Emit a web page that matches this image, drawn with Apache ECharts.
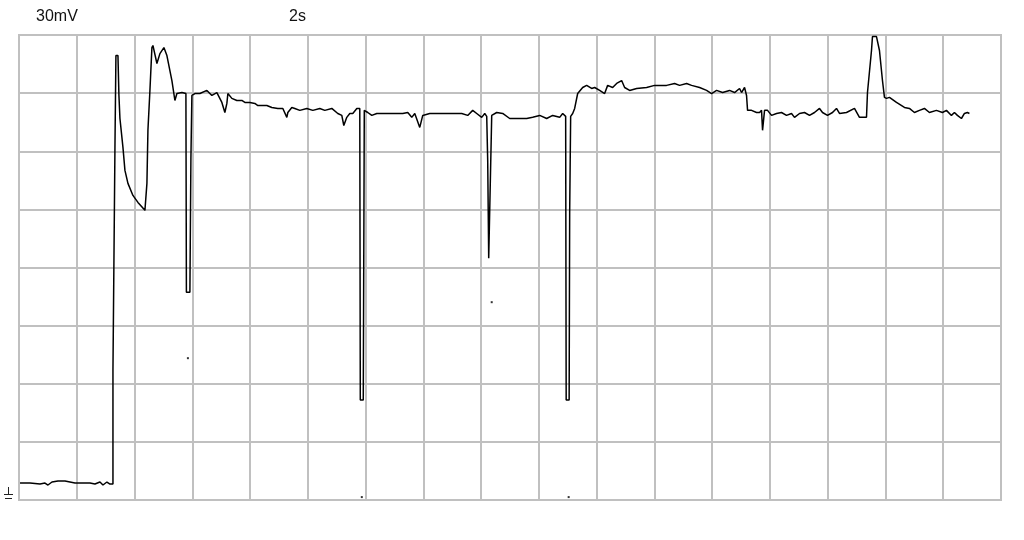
<!DOCTYPE html>
<html>
<head>
<meta charset="utf-8">
<script src="https://cdn.jsdelivr.net/npm/echarts@6/dist/echarts.min.js"></script>
<style>
html,body{margin:0;padding:0;background:#fff;}
#c{width:1024px;height:540px;}
</style>
</head>
<body>
<div id="c"></div>
<script>
// Time (s) and voltage (mV) samples of the trace
var timeS = [0.035,0.381,0.727,0.900,1.003,1.142,1.349,1.592,1.765,1.938,2.111,2.457,2.630,2.803,2.907,3.045,3.149,3.253,3.253,3.322,3.356,3.426,3.460,3.495,3.599,3.668,3.772,3.945,4.118,4.360,4.429,4.464,4.533,4.602,4.637,4.706,4.775,4.879,5.017,5.121,5.294,5.398,5.467,5.640,5.779,5.796,5.917,5.952,5.986,6.090,6.263,6.505,6.678,6.851,7.024,7.128,7.197,7.232,7.370,7.543,7.716,7.820,7.993,8.166,8.270,8.408,8.581,8.754,8.962,9.135,9.273,9.308,9.446,9.550,9.723,9.965,10.173,10.415,10.588,10.830,11.038,11.176,11.246,11.349,11.453,11.557,11.696,11.765,11.799,11.817,11.920,11.955,11.972,12.076,12.215,12.388,12.561,12.837,13.287,13.460,13.599,13.703,13.876,13.979,14.221,14.567,14.913,15.329,15.536,15.709,15.848,16.021,16.125,16.194,16.228,16.263,16.332,16.367,16.540,16.747,16.990,17.232,17.578,17.785,18.028,18.270,18.478,18.720,18.824,18.927,18.945,19.048,19.066,19.100,19.170,19.239,19.343,19.516,19.654,19.827,19.931,20.104,20.277,20.381,20.554,20.692,20.865,20.969,21.142,21.384,21.730,22.007,22.180,22.422,22.699,22.872,23.114,23.287,23.564,23.806,23.979,24.152,24.360,24.602,24.775,24.948,25.017,25.121,25.190,25.225,25.363,25.536,25.640,25.709,25.744,25.813,25.917,26.055,26.228,26.401,26.574,26.747,26.851,27.024,27.197,27.370,27.543,27.716,27.820,27.993,28.166,28.304,28.408,28.651,28.927,29.100,29.343,29.377,29.516,29.550,29.689,29.792,29.896,29.965,30.035,30.138,30.381,30.657,30.830,31.003,31.176,31.349,31.522,31.765,31.972,32.111,32.284,32.388,32.491,32.630,32.734,32.837,32.907];
var voltMV = [8.76,8.76,8.25,8.76,7.73,9.28,9.80,9.80,9.28,8.76,8.76,8.76,8.25,9.28,7.73,9.28,8.25,8.25,67.0,182.0,229.4,229.4,208.8,196.9,182.0,170.1,163.4,157.2,153.6,149.5,163.4,190.8,211.4,233.5,234.6,234.6,225.3,230.4,233.5,229.4,216.5,206.2,209.8,210.3,209.8,107.2,107.2,176.3,208.8,209.8,209.8,211.4,208.8,210.3,205.2,200.0,204.7,209.8,207.3,206.2,206.2,205.2,205.2,204.7,203.6,203.6,203.6,202.6,202.1,202.1,197.5,200.0,202.6,202.1,201.1,202.1,201.1,202.1,201.1,202.1,199.5,198.5,193.3,197.5,199.5,199.5,202.1,203.1,202.1,51.6,51.6,201.1,201.1,200.0,198.5,199.5,199.5,199.5,199.5,200.0,197.5,199.5,192.3,198.5,199.5,199.5,199.5,199.5,198.5,201.1,199.5,197.5,199.5,198.0,175.3,124.8,124.8,198.5,200.0,199.5,196.9,196.9,196.9,197.5,198.5,196.9,198.5,197.5,199.5,198.0,51.6,51.6,148.5,198.0,199.5,202.1,209.8,212.9,214.0,212.4,212.9,211.4,209.8,214.0,212.9,215.0,216.5,212.9,211.4,212.4,212.9,214.0,214.0,214.0,215.0,214.0,215.0,214.0,212.9,211.4,209.8,211.4,210.3,211.4,210.3,212.4,210.3,212.9,208.8,201.1,201.1,200.0,200.0,201.1,190.8,201.1,201.1,198.5,199.5,200.0,198.5,199.5,197.5,199.5,200.0,198.5,200.0,202.1,200.0,198.5,200.0,202.1,199.5,200.0,202.1,197.5,197.5,210.3,232.0,239.2,239.2,232.0,216.5,207.8,207.3,207.8,205.2,202.6,202.1,200.0,201.1,202.1,200.0,201.1,200.0,201.1,198.5,200.0,198.5,196.9,199.5,200.0,199.5];
// Isolated stray sample dots
var dotTimeS = [5.848, 11.869, 16.367, 19.031];
var dotVoltMV = [73.2, 1.5, 102.1, 1.5];
// Scale labels
var voltScaleLabel = '30mV';
var timeScaleLabel = '2s';

var trace = timeS.map(function (t, i) { return [t, voltMV[i]]; });
var dots = dotTimeS.map(function (t, i) { return [t, dotVoltMV[i]]; });

var gridColor = '#c0c0c0';
var chart = echarts.init(document.getElementById('c'), null, {renderer: 'canvas'});
chart.setOption({
  animation: false,
  backgroundColor: '#ffffff',
  grid: {left: 19, top: 35, width: 982, height: 465, show: true, borderColor: gridColor, borderWidth: 2, backgroundColor: 'transparent'},
  xAxis: {
    type: 'value', min: 0, max: 34, interval: 2,
    axisLine: {show: true, lineStyle: {color: gridColor, width: 2}},
    axisTick: {show: false}, axisLabel: {show: false},
    splitLine: {show: true, lineStyle: {color: gridColor, width: 2}}
  },
  yAxis: {
    type: 'value', min: 0, max: 240, interval: 30,
    axisLine: {show: true, lineStyle: {color: gridColor, width: 2}},
    axisTick: {show: false}, axisLabel: {show: false},
    splitLine: {show: true, lineStyle: {color: gridColor, width: 2}}
  },
  series: [
    {
      type: 'line', data: trace, showSymbol: false, symbol: 'none',
      lineStyle: {color: '#000000', width: 1.5}, clip: true, z: 5
    },
    {
      type: 'scatter', data: dots, symbol: 'rect', symbolSize: 2,
      itemStyle: {color: '#000000'}, z: 6
    }
  ],
  graphic: [
    {type: 'text', left: 36, top: 9, style: {text: voltScaleLabel, font: '16px "Liberation Sans", Arial, sans-serif', fill: '#111'}},
    {type: 'text', left: 289, top: 9, style: {text: timeScaleLabel, font: '16px "Liberation Sans", Arial, sans-serif', fill: '#111'}},
    {type: 'line', shape: {x1: 8.5, y1: 487, x2: 8.5, y2: 494}, style: {stroke: '#222', lineWidth: 1}},
    {type: 'line', shape: {x1: 4, y1: 494.5, x2: 13, y2: 494.5}, style: {stroke: '#222', lineWidth: 1}},
    {type: 'line', shape: {x1: 5, y1: 498.5, x2: 12, y2: 498.5}, style: {stroke: '#222', lineWidth: 1}}
  ]
});
</script>
</body>
</html>
